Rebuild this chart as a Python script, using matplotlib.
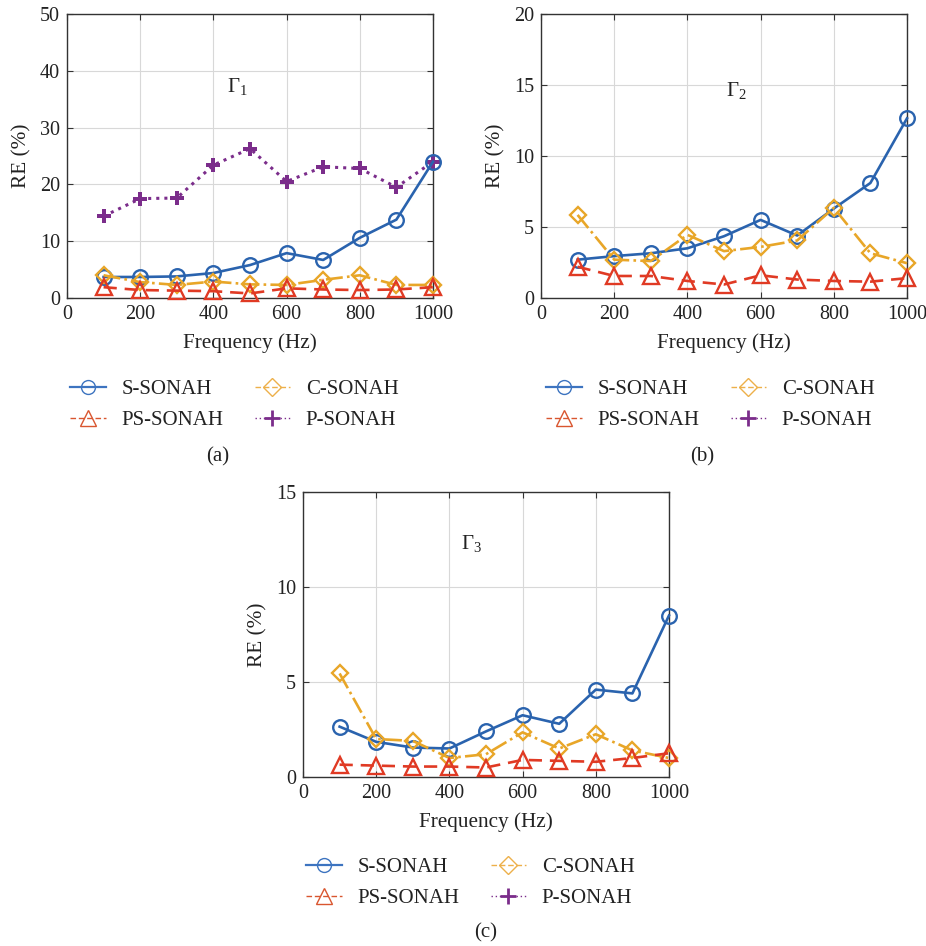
import matplotlib
matplotlib.use("Agg")
import matplotlib.pyplot as plt
from matplotlib.lines import Line2D

plt.rcParams['font.family'] = ['Liberation Serif', 'DejaVu Serif']
plt.rcParams['mathtext.fontset'] = 'custom'
plt.rcParams['mathtext.rm'] = 'Liberation Serif'
plt.rcParams['mathtext.it'] = 'Liberation Serif'

freq = [100, 200, 300, 400, 500, 600, 700, 800, 900, 1000]

# Panel (a)
a_s = [3.7, 3.7, 3.8, 4.4, 5.8, 7.9, 6.7, 10.6, 13.8, 24.0]
a_c = [4.0, 2.8, 2.3, 2.9, 2.4, 2.3, 3.2, 4.0, 2.3, 2.3]
a_ps = [1.9, 1.4, 1.3, 1.2, 0.8, 1.7, 1.5, 1.4, 1.5, 1.9]
a_p = [14.4, 17.5, 17.6, 23.4, 26.3, 20.5, 23.1, 22.8, 19.5, 24.0]

# Panel (b)
b_s = [2.7, 2.95, 3.15, 3.5, 4.35, 5.5, 4.4, 6.3, 8.1, 12.65]
b_c = [5.85, 2.7, 2.6, 4.45, 3.3, 3.6, 4.05, 6.35, 3.15, 2.45]
b_ps = [2.2, 1.55, 1.55, 1.2, 0.95, 1.6, 1.3, 1.2, 1.15, 1.4]

# Panel (c)
c_s = [2.65, 1.85, 1.55, 1.5, 2.4, 3.25, 2.8, 4.6, 4.4, 8.5]
c_c = [5.45, 2.0, 1.9, 1.0, 1.2, 2.35, 1.5, 2.25, 1.4, 1.0]
c_ps = [0.65, 0.6, 0.55, 0.55, 0.5, 0.9, 0.85, 0.8, 1.0, 1.25]

labels = ['S-SONAH', 'C-SONAH', 'PS-SONAH', 'P-SONAH']
panel_tags = ['(a)', '(b)', '(c)']
gamma_labels = [r'$\mathrm{\Gamma}_\mathrm{1}$', r'$\mathrm{\Gamma}_\mathrm{2}$', r'$\mathrm{\Gamma}_\mathrm{3}$']
ylims = [50, 20, 15]
yticks = [[0, 10, 20, 30, 40, 50], [0, 5, 10, 15, 20], [0, 5, 10, 15]]
xticks = [0, 200, 400, 600, 800, 1000]

BLUE = '#2A63AE'
YEL = '#E8A628'
RED = '#E03A24'
PUR = '#7B2D8B'

styles = {
    'S-SONAH': dict(color=BLUE, ls='-', marker='o', ms=10.5, mfc='none', mew=1.7, lw=1.9),
    'C-SONAH': dict(color=YEL, ls='-.', marker='D', ms=8.5, mfc='none', mew=1.7, lw=1.9),
    'PS-SONAH': dict(color=RED, ls=(0, (5, 3)), marker='^', ms=11.5, mfc='none', mew=1.7, lw=1.9),
    'P-SONAH': dict(color=PUR, ls=':', marker='P', ms=10, mfc=PUR, mew=0, lw=2.2),
}
leg_styles = {
    'S-SONAH': dict(color='#3D74C0', ls='-', marker='o', ms=10, mfc='none', mew=1.0, lw=1.6),
    'C-SONAH': dict(color='#EDB04A', ls=(0, (4, 2)), marker='D', ms=9, mfc='none', mew=1.0, lw=1.0),
    'PS-SONAH': dict(color='#D9562F', ls=(0, (4, 2)), marker='^', ms=12, mfc='none', mew=1.0, lw=1.0),
    'P-SONAH': dict(color='#7B2D8B', ls=(0, (1, 2)), marker='+', ms=12, mew=2.0, lw=1.0),
}

W, H = 926, 946
fig = plt.figure(figsize=(W / 100, H / 100), dpi=100)

boxes = [(67, 14, 433, 298), (541, 14, 907, 298), (303, 492, 669, 777)]
gpos = [(0.465, 0.745), (0.535, 0.73), (0.46, 0.82)]
leg_anchor = [(60, 369), (536, 369), (296, 847)]
tag_pos = [(218, 457), (702, 457), (486, 933)]

data = [
    {'S-SONAH': a_s, 'C-SONAH': a_c, 'PS-SONAH': a_ps, 'P-SONAH': a_p},
    {'S-SONAH': b_s, 'C-SONAH': b_c, 'PS-SONAH': b_ps},
    {'S-SONAH': c_s, 'C-SONAH': c_c, 'PS-SONAH': c_ps},
]

for i in range(3):
    l, t, r, b = boxes[i]
    ax = fig.add_axes([l / W, 1 - b / H, (r - l) / W, (b - t) / H])
    for name in ['P-SONAH', 'S-SONAH', 'C-SONAH', 'PS-SONAH']:
        if name in data[i]:
            ax.plot(freq, data[i][name], clip_on=False, zorder=3, **styles[name])
    ax.set_xlim(0, 1000)
    ax.set_ylim(0, ylims[i])
    ax.set_xticks(xticks)
    ax.set_yticks(yticks[i])
    ax.grid(True, color='#d8d8d8', lw=0.8)
    ax.set_axisbelow(True)
    ax.tick_params(direction='in', top=True, right=True, labelsize=14.5,
                   length=4, width=0.8, colors='#333333', labelcolor='#222222', pad=5)
    for sp in ax.spines.values():
        sp.set_color('#333333')
        sp.set_linewidth(1.0)
    ax.set_xlabel('Frequency (Hz)', fontsize=15.3, color='#222222', labelpad=7)
    ax.set_ylabel('RE (%)', fontsize=15.3, color='#222222', labelpad=6)
    ax.text(gpos[i][0], gpos[i][1], gamma_labels[i], transform=ax.transAxes,
            fontsize=15, color='#222222', ha='center', va='center')

    handles = [Line2D([], [], **leg_styles[n]) for n in ['S-SONAH', 'PS-SONAH', 'C-SONAH', 'P-SONAH']]
    hl = ['S-SONAH', 'PS-SONAH', 'C-SONAH', 'P-SONAH']
    lx, ly = leg_anchor[i]
    fig.legend(handles, hl, ncol=2, frameon=False, fontsize=15,
               loc='upper left', bbox_to_anchor=(lx / W, 1 - ly / H),
               handlelength=1.7, handletextpad=0.75, columnspacing=1.5,
               labelspacing=0.55, borderpad=0, labelcolor='#222222')
    fig.text(tag_pos[i][0] / W, 1 - tag_pos[i][1] / H, panel_tags[i],
             fontsize=15, ha='center', va='center', color='#222222')

fig.savefig('out.png', dpi=100)
